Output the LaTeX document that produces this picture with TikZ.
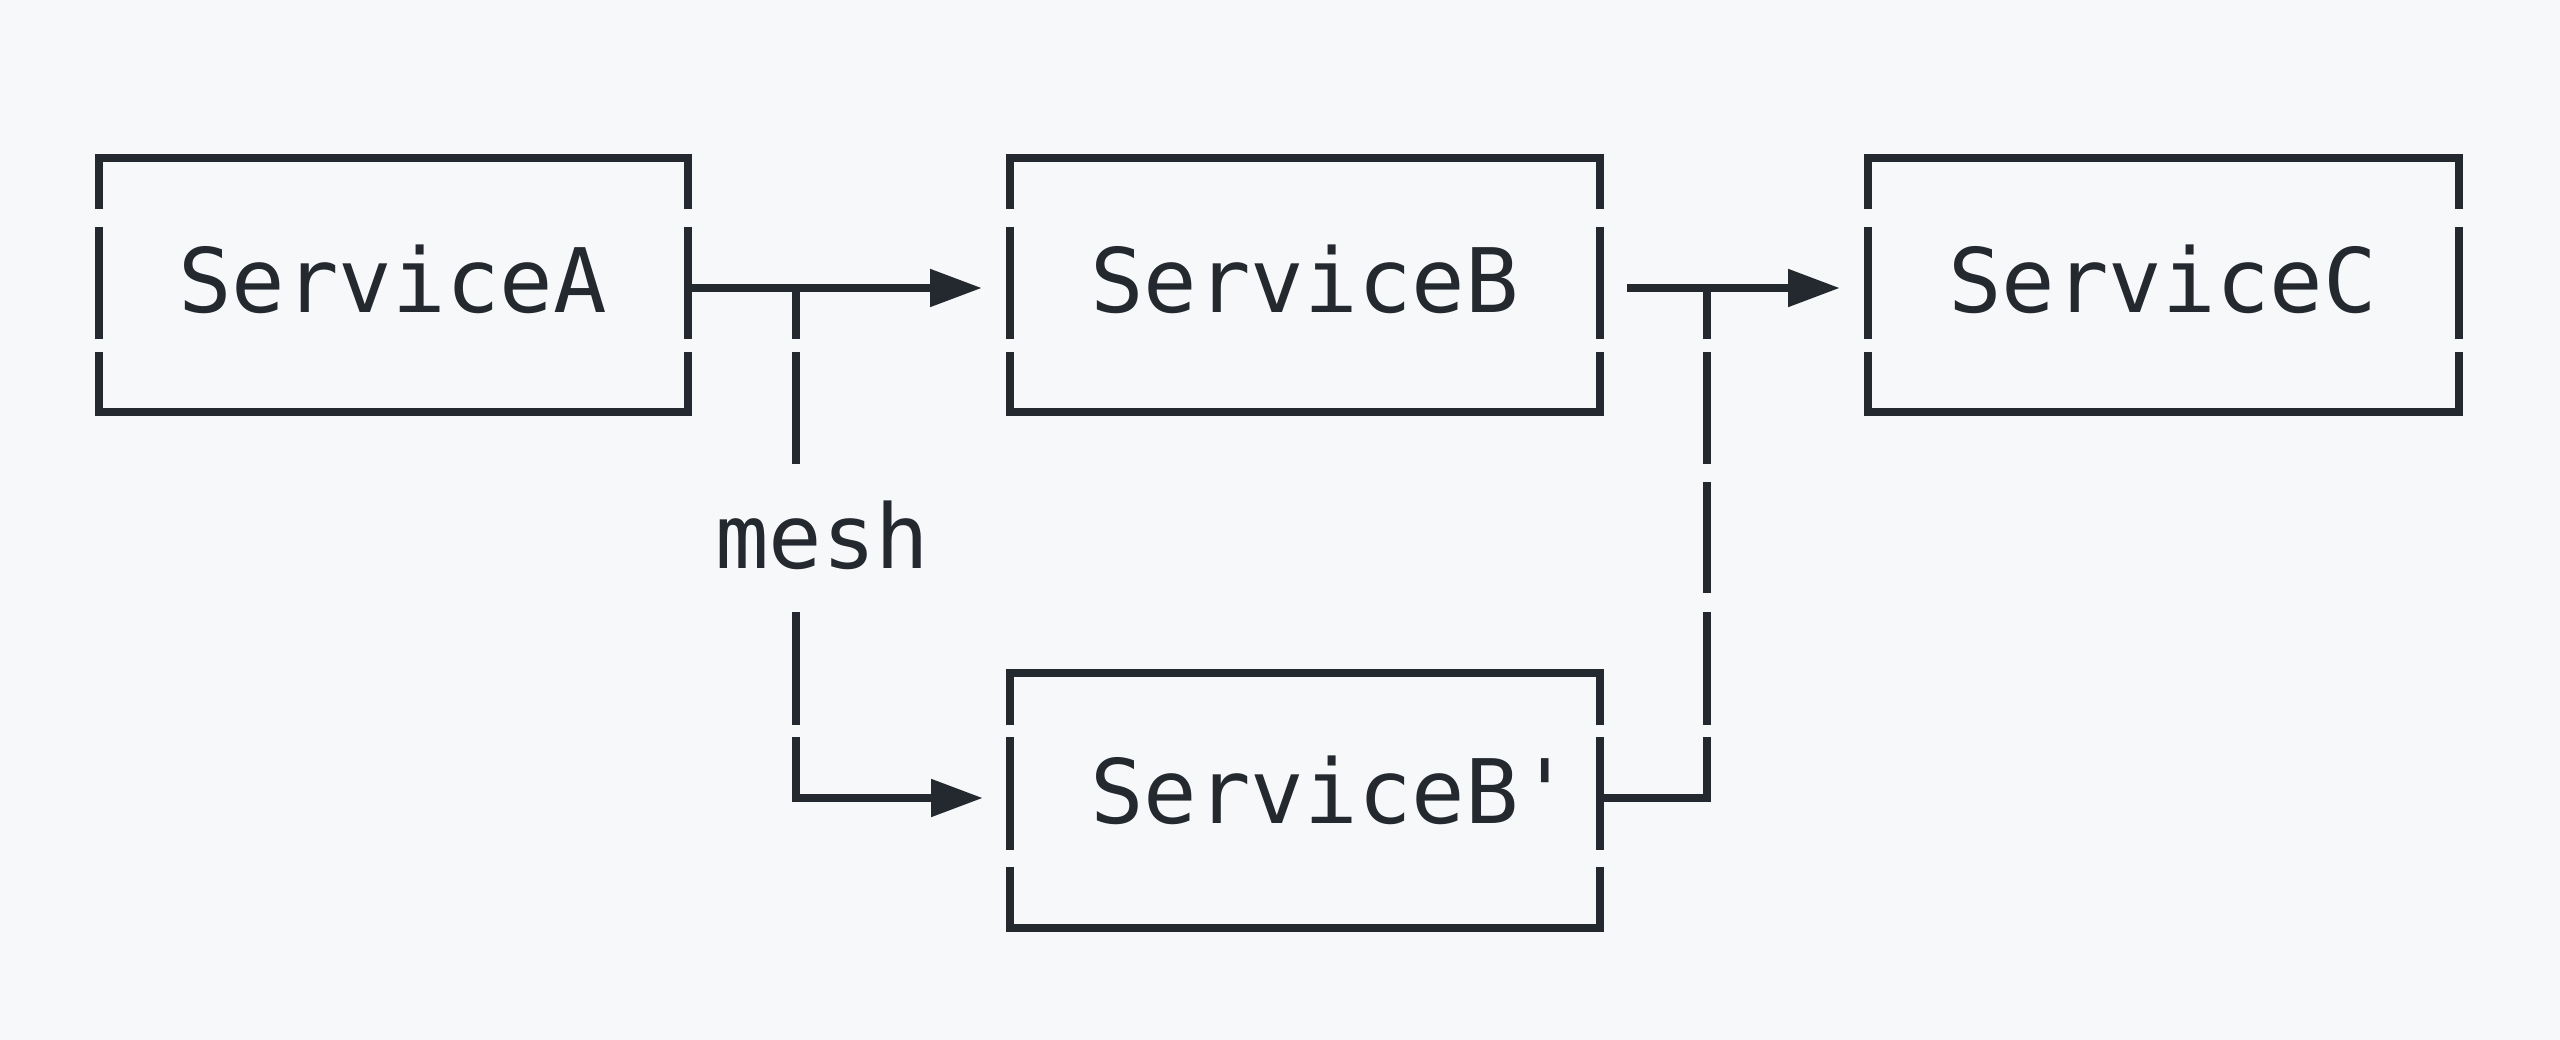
\documentclass[tikz,border=0pt]{standalone}
\usepackage{fontspec}
\newfontfamily\diagmono{DejaVu Sans Mono}
\usetikzlibrary{arrows.meta}
\definecolor{bg}{HTML}{F6F8FA}
\definecolor{ink}{HTML}{24292F}
\newcommand{\gbox}[8]{%
  \draw[ln] (#1,#5) -- (#1,#3) -- (#2,#3) -- (#2,#5);
  \draw[ln] (#1,#6) -- (#1,#7);
  \draw[ln] (#2,#6) -- (#2,#7);
  \draw[ln] (#1,#8) -- (#1,#4) -- (#2,#4) -- (#2,#8);}
\begin{document}
\begin{tikzpicture}[x=1pt,y=-1pt,
  ln/.style={draw=ink, line width=8.3pt, line join=miter, line cap=butt},
  arr/.style={ln, -{Triangle[length=52pt,width=36pt]}},
  lbl/.style={font=\diagmono\fontsize{89}{100}\selectfont, text=ink, inner sep=0pt, anchor=base west},
  boxn/.style={rectangle, inner sep=0pt, minimum width=589pt, minimum height=254pt}]
\fill[bg] (0,0) rectangle (2560,1040);
\useasboundingbox (0,0) rectangle (2560,1040);

% box shapes (invisible nodes carry the names)
\node[boxn] (A)  at (393.5,285) {};
\node[boxn] (B)  at (1305,285) {};
\node[boxn] (C)  at (2163.5,285) {};
\node[boxn] (Bp) at (1305,800.5) {};

% box outlines with the row gaps
\gbox{99}{688}{158}{412}{209}{227}{339}{352}
\gbox{1010}{1600}{158}{412}{209}{227}{339}{352}
\gbox{1868}{2459}{158}{412}{209}{227}{339}{352}
\gbox{1010}{1600}{673}{928}{725}{737}{850}{867}

% labels
\node[lbl] (tA)  at (178,313)  {ServiceA};
\node[lbl] (tB)  at (1090,313) {ServiceB};
\node[lbl] (tC)  at (1948,313) {ServiceC};
\node[lbl] (tBp) at (1090,823) {ServiceB'};
\node[lbl] (mesh) at (715,568) {mesh};

% connector coordinates
\coordinate (jA)  at (796,288);
\coordinate (tAB) at (982,288);
\coordinate (tAp) at (983,798);
\coordinate (sBC) at (1627,288);
\coordinate (tBC) at (1840,288);
\coordinate (jB)  at (1707,288);

% ServiceA -> ServiceB
\draw[arr] (A.east |- tAB) -- (tAB);
% mesh branch -> ServiceB'
\draw[ln] (jA) -- (796,339);
\draw[ln] (796,352) -- (796,464);
\draw[ln] (796,612) -- (796,725);
\draw[arr] (796,737) -- (jA |- tAp) -- (tAp);
% ServiceB -> ServiceC
\draw[arr] (sBC) -- (tBC);
% ServiceB' -> join
\draw[ln] (jB) -- (1707,339);
\draw[ln] (1707,352) -- (1707,464);
\draw[ln] (1707,482) -- (1707,593);
\draw[ln] (1707,612) -- (1707,725);
\draw[ln] (1707,737) -- (jB |- tAp) -- (Bp.east |- tAp);
\end{tikzpicture}
\end{document}
